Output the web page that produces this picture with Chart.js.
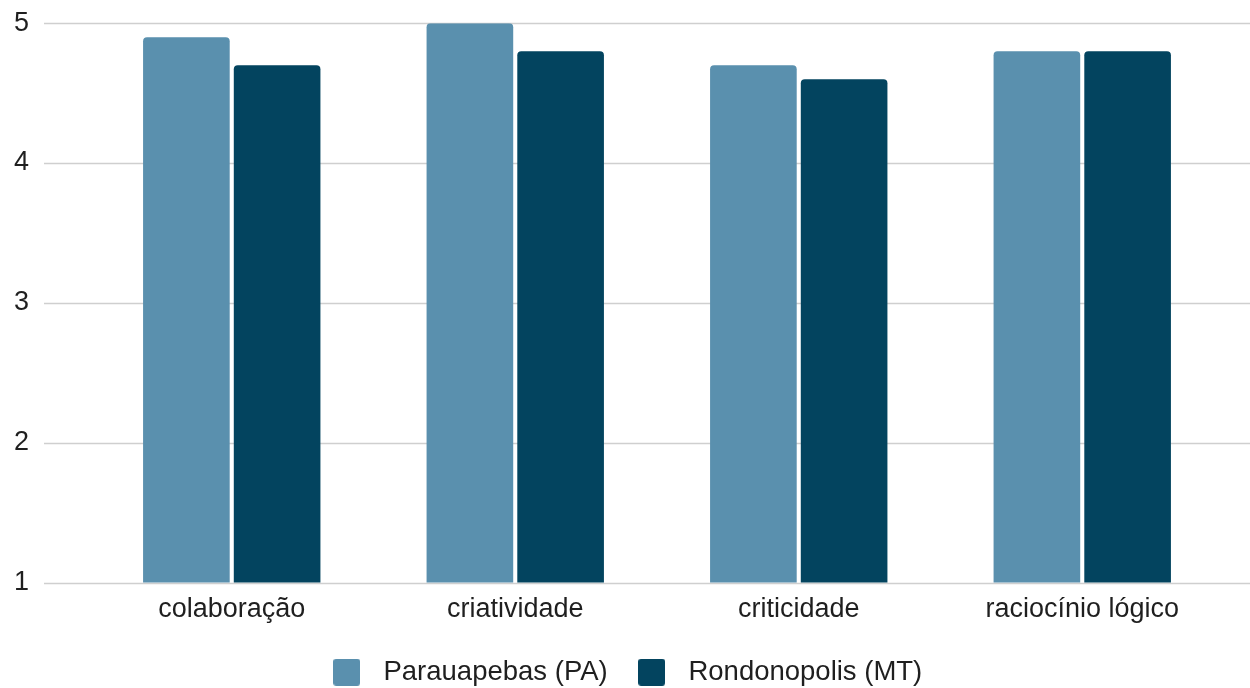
<!DOCTYPE html>
<html>
<head>
<meta charset="utf-8">
<script src="https://cdn.jsdelivr.net/npm/chart.js@4/dist/chart.umd.min.js"></script>
<style>
  html, body { margin: 0; padding: 0; background: #ffffff; }
  #wrap { width: 1250px; height: 688px; position: relative; }
</style>
</head>
<body>
<div id="wrap"><canvas id="chart" width="1250" height="688"></canvas></div>
<script>
// Competências avaliadas e médias por município
const categories = ['colaboração', 'criatividade', 'criticidade', 'raciocínio lógico'];
const parauapebas = [4.9, 5.0, 4.7, 4.8];
const rondonopolis = [4.7, 4.8, 4.6, 4.8];
const yTicks = [1, 2, 3, 4, 5];

const seriesNames = ['Parauapebas (PA)', 'Rondonopolis (MT)'];
const seriesColors = ['#5a90ae', '#03445f'];
const gridColor = '#cfcfcf';
const textColor = '#1f1f1f';
const fontFamily = '"Liberation Sans", Arial, sans-serif';

// Rounded colour swatches used as legend markers
function makeSwatch(color, size, radius) {
  const c = document.createElement('canvas');
  c.width = size;
  c.height = size;
  const g = c.getContext('2d');
  g.fillStyle = color;
  g.beginPath();
  g.roundRect(0, 0, size, size, radius);
  g.fill();
  return c;
}
const swatches = seriesColors.map(col => makeSwatch(col, 27, 3));

// Horizontal guide lines across the full canvas width, placed by the y scale
const wideGrid = {
  id: 'wideGrid',
  beforeDatasetsDraw(chart) {
    const ctx = chart.ctx;
    const y = chart.scales.y;
    ctx.save();
    ctx.strokeStyle = gridColor;
    ctx.lineWidth = 1.6;
    yTicks.forEach(v => {
      const py = Math.round(y.getPixelForValue(v)) + 0.5;
      ctx.beginPath();
      ctx.moveTo(44, py);
      ctx.lineTo(chart.width, py);
      ctx.stroke();
    });
    ctx.restore();
  }
};

// Nudge the legend row toward the bottom edge
const legendNudge = {
  id: 'legendNudge',
  afterLayout(chart) {
    const lg = chart.legend;
    if (!lg) return;
    lg.top += 8;
    lg.bottom += 8;
    lg.left += 4;
    lg.right += 4;
  }
};

new Chart(document.getElementById('chart'), {
  type: 'bar',
  data: {
    labels: categories,
    datasets: [
      { label: seriesNames[0], data: parauapebas, backgroundColor: seriesColors[0], borderRadius: 4, borderSkipped: 'bottom' },
      { label: seriesNames[1], data: rondonopolis, backgroundColor: seriesColors[1], borderRadius: 4, borderSkipped: 'bottom' }
    ]
  },
  options: {
    responsive: false,
    animation: false,
    maintainAspectRatio: false,
    categoryPercentage: 0.64,
    barPercentage: 0.955,
    layout: { padding: { top: 0, right: 26, left: 14, bottom: 0 } },
    plugins: {
      legend: {
        position: 'bottom',
        labels: {
          color: textColor,
          font: { family: fontFamily, size: 27.5 },
          usePointStyle: true,
          pointStyleWidth: 46,
          boxHeight: 27,
          padding: 21,
          generateLabels(chart) {
            const items = Chart.defaults.plugins.legend.labels.generateLabels(chart);
            items.forEach((it, i) => { it.pointStyle = swatches[i]; });
            return items;
          }
        }
      },
      tooltip: { enabled: false }
    },
    scales: {
      x: {
        grid: { display: false, drawTicks: false },
        border: { display: false },
        ticks: {
          color: textColor,
          font: { family: fontFamily, size: 27 },
          padding: 11,
          maxRotation: 0
        },
        afterFit(scale) { scale.height = 47; }
      },
      y: {
        min: 1,
        max: 5,
        grid: { display: false, drawTicks: false },
        border: { display: false },
        afterBuildTicks(scale) { scale.ticks = yTicks.map(v => ({ value: v })); },
        ticks: {
          color: textColor,
          font: { family: fontFamily, size: 27 },
          crossAlign: 'far',
          padding: 7
        },
        afterFit(scale) { scale.width = 76; }
      }
    }
  },
  plugins: [wideGrid, legendNudge]
});
</script>
</body>
</html>
